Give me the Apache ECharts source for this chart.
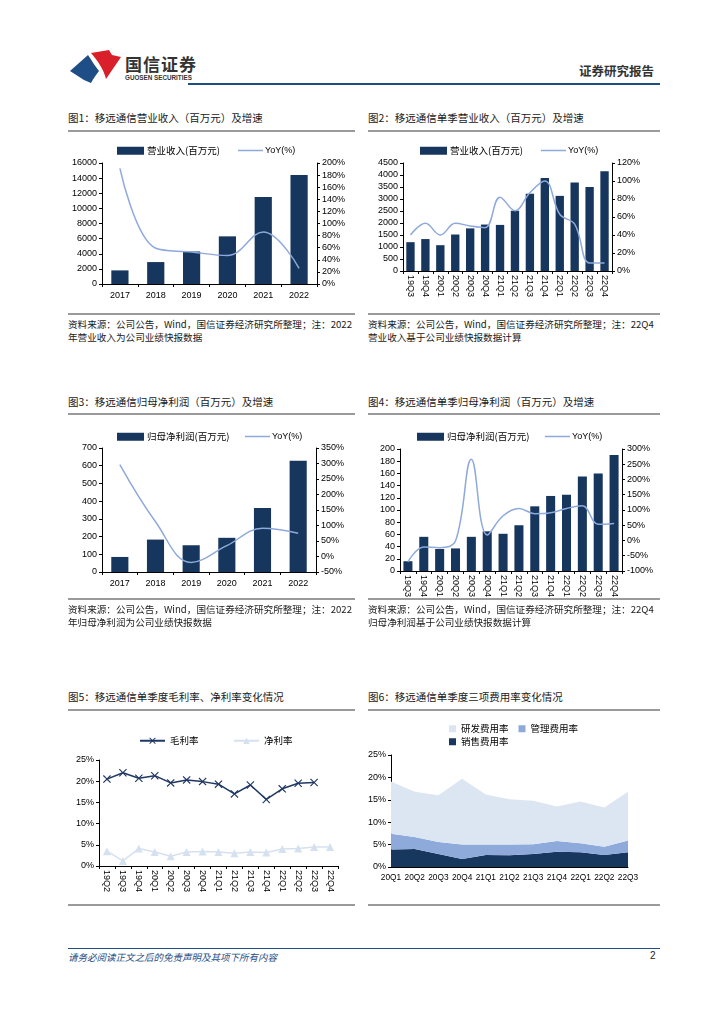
<!DOCTYPE html>
<html><head><meta charset="utf-8">
<script src="https://cdn.jsdelivr.net/npm/echarts@6/dist/echarts.min.js"></script>
<style>
body{margin:0;background:#fff;}
#page{position:relative;width:724px;height:1024px;overflow:hidden;font-family:"Noto Sans CJK SC","Liberation Sans",sans-serif;color:#1a1a1a;}
.abs{position:absolute;white-space:nowrap;}
.title{font-size:10.5px;line-height:14px;}
.note{font-size:9.6px;line-height:13px;}
.gline{position:absolute;height:2px;background:#9a9a9a;}
.chart{position:absolute;}
</style></head>
<body><div id="page">
<svg class="abs" style="left:66px;top:48px" width="60" height="38" viewBox="66 48 60 38">
  <path d="M70,71 L88,55 C92,61 95,66 99,71 C96,75 93,79 91,83 L84,80 Z" fill="#1f4e86"/>
  <path d="M91,53 L109,50 L112,55 L121,57 L106,79 C104,70 98,61 91,53 Z" fill="#d9202a"/>
</svg>
<div class="abs" style="left:125px;top:51px;font-size:17px;font-weight:bold;color:#333;letter-spacing:1px;">国信证券</div>
<div class="abs" style="left:125px;top:74px;font-size:6.3px;font-weight:bold;color:#333;font-family:'Liberation Sans';">GUOSEN SECURITIES</div>
<div class="abs" style="left:579px;top:61px;font-size:12.5px;font-weight:bold;color:#333;">证券研究报告</div>
<div class="abs" style="left:188px;top:83px;width:472px;height:2px;background:#1f4e86;"></div>

<div class="abs title" style="left:68px;top:111px;">图1：移远通信营业收入（百万元）及增速</div>
<div class="gline" style="left:68px;top:130px;width:287px;"></div>
<div class="abs title" style="left:368px;top:111px;">图2：移远通信单季营业收入（百万元）及增速</div>
<div class="gline" style="left:368px;top:130px;width:292px;"></div>
<div id="c1" class="chart" style="left:60px;top:138px;width:300px;height:167px;"></div>
<div id="c2" class="chart" style="left:360px;top:135px;width:310px;height:165px;"></div>
<div class="gline" style="left:68px;top:313px;width:287px;"></div>
<div class="gline" style="left:368px;top:313px;width:292px;"></div>
<div class="abs note" style="left:68px;top:318px;">资料来源：公司公告，Wind，国信证券经济研究所整理；注：2022</div>
<div class="abs note" style="left:68px;top:331px;">年营业收入为公司业绩快报数据</div>
<div class="abs note" style="left:368px;top:318px;">资料来源：公司公告，Wind，国信证券经济研究所整理；注：22Q4</div>
<div class="abs note" style="left:368px;top:331px;">营业收入基于公司业绩快报数据计算</div>

<div class="abs title" style="left:68px;top:395px;">图3：移远通信归母净利润（百万元）及增速</div>
<div class="gline" style="left:68px;top:413px;width:287px;"></div>
<div class="abs title" style="left:368px;top:395px;">图4：移远通信单季归母净利润（百万元）及增速</div>
<div class="gline" style="left:368px;top:413px;width:292px;"></div>
<div id="c3" class="chart" style="left:60px;top:420px;width:300px;height:175px;"></div>
<div id="c4" class="chart" style="left:360px;top:420px;width:310px;height:180px;"></div>
<div class="gline" style="left:68px;top:598px;width:287px;"></div>
<div class="gline" style="left:368px;top:598px;width:292px;"></div>
<div class="abs note" style="left:68px;top:603px;">资料来源：公司公告，Wind，国信证券经济研究所整理；注：2022</div>
<div class="abs note" style="left:68px;top:616px;">年归母净利润为公司业绩快报数据</div>
<div class="abs note" style="left:368px;top:603px;">资料来源：公司公告，Wind，国信证券经济研究所整理；注：22Q4</div>
<div class="abs note" style="left:368px;top:616px;">归母净利润基于公司业绩快报数据计算</div>

<div class="abs title" style="left:68px;top:690px;">图5：移远通信单季度毛利率、净利率变化情况</div>
<div class="gline" style="left:68px;top:709px;width:287px;"></div>
<div class="abs title" style="left:368px;top:690px;">图6：移远通信单季度三项费用率变化情况</div>
<div class="gline" style="left:368px;top:709px;width:292px;"></div>
<div id="c5" class="chart" style="left:60px;top:725px;width:300px;height:170px;"></div>
<div id="c6" class="chart" style="left:360px;top:715px;width:310px;height:175px;"></div>
<div class="gline" style="left:68px;top:904px;width:287px;height:1.5px;"></div>
<div class="gline" style="left:368px;top:904px;width:292px;height:1.5px;"></div>

<div class="abs" style="left:68px;top:948px;width:592px;height:1px;background:#1f4e86;"></div>
<div class="abs" style="left:68px;top:950px;font-size:9.5px;font-style:italic;color:#1f4e86;">请务必阅读正文之后的免责声明及其项下所有内容</div>
<div class="abs" style="left:650px;top:950px;font-size:10px;color:#222;font-family:'Liberation Sans';">2</div>
</div>
<script>
// ---- data ----
const years = ['2017','2018','2019','2020','2021','2022'];
const revenue = [1800,2900,4300,6300,11500,14400];
const revenueYoY = [191,59,53,47,86,26];

const quarters = ['19Q3','19Q4','20Q1','20Q2','20Q3','20Q4','21Q1','21Q2','21Q3','21Q4','22Q1','22Q2','22Q3','22Q4'];
const qRevenue = [1200,1330,1075,1520,1775,1935,1920,2510,3220,3870,3130,3690,3500,4160];
const qRevenueYoY = [40,53,40,53,50,48,82,67,87,100,63,52,9,9];

const netProfit = [85,183,151,193,361,628];
const netProfitYoY = [296,112,-19,35,91,75];

const qNetProfit = [16,56,36,37,56,65,61,75,106,123,125,155,160,190];
const qNetProfitYoY = [-70,-21,-24,-2,266,18,81,105,88,91,105,114,53,56];

const marginQuarters = ['19Q2','19Q3','19Q4','20Q1','20Q2','20Q3','20Q4','21Q1','21Q2','21Q3','21Q4','22Q1','22Q2','22Q3','22Q4'];
const grossMargin = [20.5,22.0,20.7,21.3,19.6,20.3,19.9,19.3,17.0,19.1,15.7,18.2,19.5,19.7,null];
const netMargin = [3.5,1.2,4.1,3.3,2.3,3.3,3.4,3.3,3.0,3.3,3.2,4.0,4.1,4.5,4.5];

const expenseQuarters = ['20Q1','20Q2','20Q3','20Q4','21Q1','21Q2','21Q3','21Q4','22Q1','22Q2','22Q3'];
const salesRate = [3.9,4.0,2.9,1.8,2.7,2.6,2.9,3.4,3.3,2.7,3.3];
const adminRate = [3.5,2.7,2.7,3.2,2.3,2.4,2.2,2.4,2.0,1.8,2.6];
const rdRate = [11.7,10.1,10.4,14.7,11.2,10.1,9.7,7.7,9.3,8.8,10.9];

// ---- styles ----
const NAVY = '#17365d', LBLUE = '#8ea9db';
const NUMFONT = 'Liberation Sans, Arial, sans-serif';
const CJK = 'Noto Sans CJK SC, sans-serif';
const lab = {fontSize:9, color:'#000', fontFamily:NUMFONT};
const axLine = {show:true, lineStyle:{color:'#000', width:1}};
const axTick = {show:true, length:3, lineStyle:{color:'#000'}};

function catAxis(data, rotate, fs){
  return {type:'category', data, axisLine:axLine, axisTick:{show:true,length:3,lineStyle:{color:'#000'}},
    axisLabel:Object.assign({}, lab, {fontSize: fs||9, interval:0, rotate: rotate?-90:0, margin: rotate?4:7})};
}
function valAxis(min,max,interval,pos,pct){
  return {type:'value', min, max, interval, position:pos, axisLine:axLine, axisTick:axTick,
    splitLine:{show:false}, axisLabel:Object.assign({}, lab, {margin:5, formatter: v => pct ? (v + '%') : String(v)})};
}
function legends(barName, lineName, top, barLeft, lineLeft){
  return [
    {data:[barName], left:barLeft, top, icon:'rect', itemWidth:27, itemHeight:8, itemGap:3,
     textStyle:{fontSize:9.5, color:'#000', fontFamily:CJK, padding:[0,0,0,-2]}},
    {data:[{name:lineName, icon:'rect'}], left:lineLeft, top, itemWidth:25, itemHeight:1.5,
     textStyle:{fontSize:9, color:'#000', fontFamily:NUMFONT, padding:[0,0,0,-3]}}
  ];
}
function barLine(el, cats, bars, yoy, cfg){
  const c = echarts.init(document.getElementById(el), null, {renderer:'canvas'});
  c.setOption({
    animation:false,
    legend: legends(cfg.barName, 'YoY(%)', cfg.legendTop, cfg.barLeft, cfg.lineLeft),
    grid: cfg.grid,
    xAxis: catAxis(cats, cfg.rotate),
    yAxis: [valAxis(cfg.l[0],cfg.l[1],cfg.l[2],'left',false), valAxis(cfg.r[0],cfg.r[1],cfg.r[2],'right',true)],
    series: [
      {name:cfg.barName, type:'bar', data:bars, barCategoryGap:cfg.gap, itemStyle:{color:NAVY}},
      {name:'YoY(%)', type:'line', yAxisIndex:1, data:yoy, smooth:0.4, symbol:'none',
       lineStyle:{color:LBLUE, width:1.5}, itemStyle:{color:LBLUE}}
    ]
  });
}

barLine('c1', years, revenue, revenueYoY, {barName:'营业收入(百万元)', legendTop:3, barLeft:52, lineLeft:173,
  grid:{left:42, right:43, top:25, bottom:21}, l:[0,16000,2000], r:[0,200,20], gap:'52%'});
barLine('c2', quarters, qRevenue, qRevenueYoY, {barName:'营业收入(百万元)', legendTop:6, barLeft:55, lineLeft:176,
  grid:{left:43, right:58, top:28, bottom:25}, l:[0,4500,500], r:[0,120,20], gap:'44%', rotate:true});
barLine('c3', years, netProfit, netProfitYoY, {barName:'归母净利润(百万元)', legendTop:7, barLeft:52, lineLeft:180,
  grid:{left:42, right:44, top:28, bottom:23}, l:[0,700,100], r:[-50,350,50], gap:'52%'});
barLine('c4', quarters, qNetProfit, qNetProfitYoY, {barName:'归母净利润(百万元)', legendTop:7, barLeft:52, lineLeft:180,
  grid:{left:40, right:48, top:29, bottom:29}, l:[0,200,20], r:[-100,300,50], gap:'43%', rotate:true});

// chart 5
const XMARK = 'path://M0,1 L1,0 L5,4 L9,0 L10,1 L6,5 L10,9 L9,10 L5,6 L1,10 L0,9 L4,5 Z';
const c5 = echarts.init(document.getElementById('c5'));
c5.setOption({
  animation:false,
  legend:[
    {data:['毛利率'], left:74, top:6, itemWidth:25, itemHeight:8, textStyle:{fontSize:9.5,color:'#000',fontFamily:CJK}},
    {data:['净利率'], left:168, top:6, itemWidth:25, itemHeight:8, textStyle:{fontSize:9.5,color:'#000',fontFamily:CJK}}
  ],
  grid:{left:39, right:22, top:35, bottom:28},
  xAxis: catAxis(marginQuarters, true),
  yAxis: valAxis(0,25,5,'left',true),
  series:[
    {name:'毛利率', type:'line', data:grossMargin, symbol:XMARK, symbolSize:8,
     lineStyle:{color:'#1f3864', width:1.5}, itemStyle:{color:'#1f3864'}},
    {name:'净利率', type:'line', data:netMargin, symbol:'triangle', symbolSize:8,
     lineStyle:{color:'#d6e1f0', width:1.5}, itemStyle:{color:'#d6e1f0'}}
  ]
});

// chart 6
const c6 = echarts.init(document.getElementById('c6'));
const sq = {icon:'rect', itemWidth:7, itemHeight:7, itemGap:10, textStyle:{fontSize:9.5,color:'#000',fontFamily:CJK}};
c6.setOption({
  animation:false,
  legend:[
    Object.assign({data:['研发费用率','管理费用率'], left:84, top:4}, sq),
    Object.assign({data:['销售费用率'], left:84, top:17}, sq)
  ],
  grid:{left:31, right:42, top:40, bottom:23},
  xAxis: Object.assign(catAxis(expenseQuarters, false, 8.3), {boundaryGap:false, axisTick:{show:false}}),
  yAxis: valAxis(0,25,5,'left',true),
  series:[
    {name:'销售费用率', type:'line', stack:'fee', data:salesRate, symbol:'none', lineStyle:{width:0},
     areaStyle:{color:'#17375e', opacity:1}, itemStyle:{color:'#17375e'}},
    {name:'管理费用率', type:'line', stack:'fee', data:adminRate, symbol:'none', lineStyle:{width:0},
     areaStyle:{color:'#8eaadb', opacity:1}, itemStyle:{color:'#8eaadb'}},
    {name:'研发费用率', type:'line', stack:'fee', data:rdRate, symbol:'none', lineStyle:{width:0},
     areaStyle:{color:'#dce6f2', opacity:1}, itemStyle:{color:'#dce6f2'}}
  ]
});
</script>
</body></html>
